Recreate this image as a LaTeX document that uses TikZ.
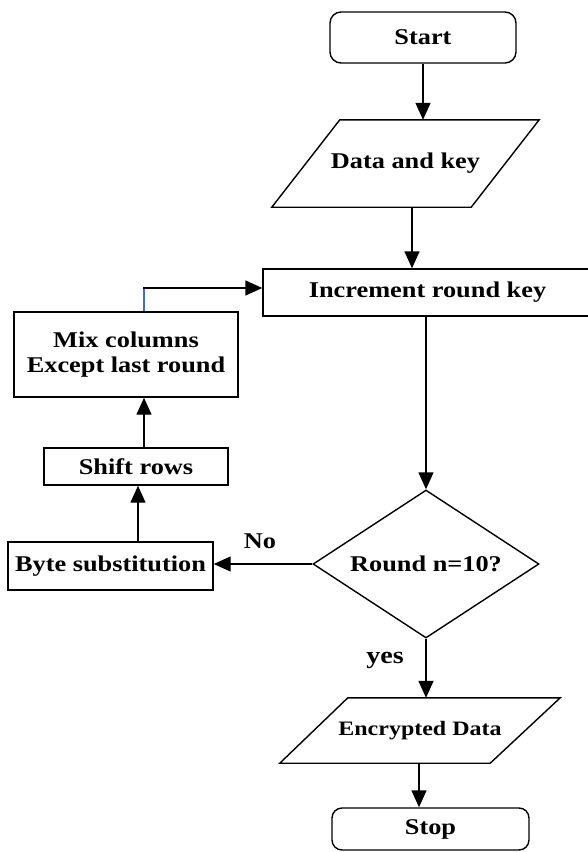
\documentclass[tikz,border=0pt]{standalone}
\usepackage{fontspec}
\setmainfont{Liberation Serif}[FakeStretch=1.17]
\usetikzlibrary{arrows.meta,shapes.geometric}
\definecolor{linkblue}{RGB}{60,110,200}
\begin{document}
\begin{tikzpicture}[x=1pt,y=-1pt,
  every node/.style={font=\bfseries\fontsize{22.5}{25}\selectfont, inner sep=0pt},
  line/.style={line width=1.4pt},
  arr/.style={line, -{Triangle[length=17pt,width=15pt]}},
  boxed/.style={draw, line width=1.4pt, align=center},
  terminal/.style={boxed, rounded corners=11pt},
  ghost/.style={align=center},
  decision/.style={draw, line width=1.4pt, diamond, aspect=1.53,
    minimum width=226pt, minimum height=148pt}]
\useasboundingbox (0,0) rectangle (587,852);

% main column
\node[terminal, minimum width=186pt, minimum height=51pt] (start) at (423,37.5) {Start};
\node[ghost, minimum width=267pt, minimum height=87pt] (data) at (405.5,163.5) {Data and key};
\node[boxed, minimum width=329pt, minimum height=47pt] (inc) at (427.5,292.5) {Increment round key};
\node[decision] (dec) at (426,564) {Round n=10?};
\node[ghost, minimum width=280pt, minimum height=65pt, font=\bfseries\fontsize{20.5}{23}\selectfont] (enc) at (420,730.5) {Encrypted Data};
\node[terminal, minimum width=197pt, minimum height=42pt, rounded corners=10pt] (stop) at (430.5,829) {Stop};

% parallelogram outlines for the input/output steps
\draw[line] ([xshift=68pt]data.north west) -- (data.north east)
  -- ([xshift=-68pt]data.south east) -- (data.south west) -- cycle;
\draw[line] ([xshift=68pt]enc.north west) -- (enc.north east)
  -- ([xshift=-70pt]enc.south east) -- (enc.south west) -- cycle;

% round loop on the left
\node[boxed, minimum width=224pt, minimum height=85pt] (mix) at (126,354.5) {Mix columns\\Except last round};
\node[boxed, minimum width=184pt, minimum height=37pt] (shift) at (136,466.5) {Shift rows};
\node[boxed, minimum width=205pt, minimum height=48pt] (byte) at (110.5,566) {Byte substitution};

% labels
\node (no) at (260,541) {No};
\node[font=\bfseries\fontsize{24}{26}\selectfont] (yes) at (385,660) {yes};

% connectors
\draw[arr] (start.south) -- (start.south |- data.north);
\draw[arr] ([xshift=6.5pt]data.south) -- ([xshift=6.5pt]data.south |- inc.north);
\draw[arr] (dec.north |- inc.south) -- (dec.north);
\draw[arr] (dec.south) -- (dec.south |- enc.north);
\draw[arr] ([xshift=-11.5pt]stop.north |- enc.south) -- ([xshift=-11.5pt]stop.north);
\draw[arr] (dec.west) -- (dec.west -| byte.east);
\draw[arr] ([xshift=2pt]shift.south |- byte.north) -- ([xshift=2pt]shift.south);
\draw[arr] ([xshift=8pt]shift.north) -- ([xshift=8pt]shift.north |- mix.south);
\coordinate (bend) at (144,288);
\draw[line, linkblue, line width=1.2pt] (bend |- mix.north) -- (bend);
\draw[arr] ([xshift=-0.6pt]bend) -- (bend -| inc.west);
\end{tikzpicture}
\end{document}
